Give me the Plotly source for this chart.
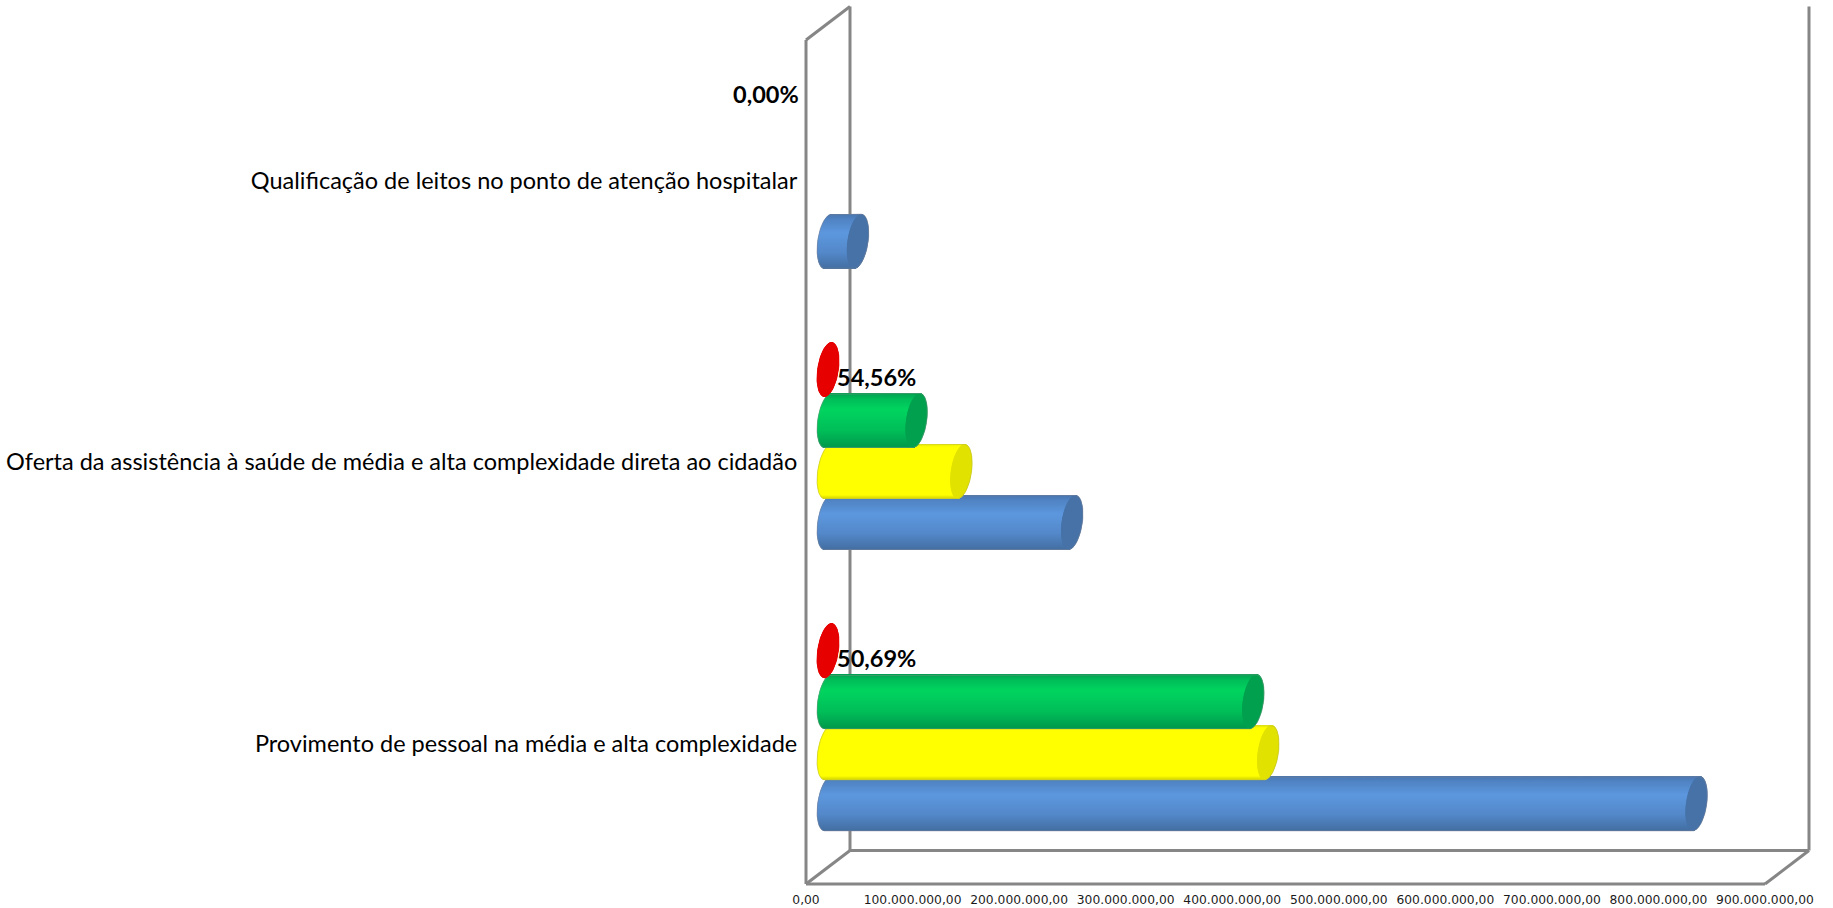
import math
import plotly.graph_objects as go

# ---- data ----
categories = ["Provimento de pessoal na média e alta complexidade",
              "Oferta da assistência à saúde de média e alta complexidade direta ao cidadão",
              "Qualificação de leitos no ponto de atenção hospitalar"]
blue_values = [815e6, 229e6, 28e6]
yellow_values = [413e6, 125e6, 0]
green_values = [399e6, 83e6, 0]
red_percent = [50.69, 54.56, 0.0]
axis_ticks = [0, 1e8, 2e8, 3e8, 4e8, 5e8, 6e8, 7e8, 8e8, 9e8]

# ---- layout constants ----
W, H = 1833, 908
FX0, FX1, FY0, FY1 = 806, 1765, 40, 884   # front plane
DX, DY = 44, 33.5                          # depth of the 3-D box
MX, MY = 22, 16                            # offset of the plane that holds the bars
XMAX = 9e8
PAD = 30                                   # px of room left of zero for the rounded bar ends
px_x = XMAX / (FX1 - FX0)
px_y = 3 / (FY1 - FY0)
SLOT = 51
BAR_H = 54
SKEW = 3.5
RX = 10.4


def lerp_colour(stops, t):
    for (t0, c0), (t1, c1) in zip(stops, stops[1:]):
        if t <= t1:
            f = (t - t0) / (t1 - t0) if t1 > t0 else 0
            c = [round(a + (b - a) * f) for a, b in zip(c0, c1)]
            return "rgb(%d,%d,%d)" % tuple(c)
    return "rgb(%d,%d,%d)" % tuple(stops[-1][1])


series = [
    dict(name="blue", values=blue_values, slot=1.5, cap="#4672A8", line="rgba(120,130,150,0.55)",
         stops=[(0, (72, 118, 176)), (0.1, (80, 132, 196)), (0.35, (92, 151, 222)),
                (0.7, (84, 137, 203)), (1, (68, 112, 164))]),
    dict(name="yellow", values=yellow_values, slot=0.5, cap="#E2E200", line="rgba(190,190,60,0.6)",
         stops=[(0, (245, 245, 0)), (0.06, (255, 255, 0)), (0.95, (255, 255, 0)), (1, (225, 225, 0))]),
    dict(name="green", values=green_values, slot=-0.5, cap="#00A04E", line="rgba(110,150,125,0.55)",
         stops=[(0, (0, 160, 80)), (0.1, (0, 188, 88)), (0.3, (0, 212, 95)),
                (0.7, (0, 190, 88)), (1, (0, 155, 76))]),
    dict(name="red", values=red_percent, slot=-1.5, cap="#E60000", line="rgba(230,0,0,1)",
         stops=[(0, (230, 0, 0)), (1, (230, 0, 0))]),
]

fig = go.Figure()

# invisible trace so the front-plane axes (ticks and category labels) exist
fig.add_trace(go.Scatter(x=[0, 0, 0], y=[0, 1, 2], mode="markers", marker=dict(opacity=0),
                         hoverinfo="skip", showlegend=False, xaxis="x", yaxis="y"))

for idx, s in enumerate(series):
    n = idx + 2
    xa, ya = f"x{n}", f"y{n}"
    by, bl, bb, cy, cl, cb, colours = [], [], [], [], [], [], []
    lx, ly = [], []
    for g, v in enumerate(s["values"]):
        if v <= 0:
            continue
        yc = g - s["slot"] * SLOT * px_y
        is_body = s["name"] != "red"
        for k in range(BAR_H):
            dpx = k + 0.5 - BAR_H / 2
            t = -dpx / (BAR_H / 2)
            r = RX * math.sqrt(max(0, 1 - t * t))
            shift = SKEW * t
            y = yc + t * (BAR_H / 2) * px_y
            if is_body:
                left = (shift - r) * px_x
                right = v + shift * px_x
                by.append(y); bl.append(left); bb.append(right - left)
                colours.append(lerp_colour(s["stops"], k / (BAR_H - 1)))
            cy.append(y); cl.append(v + (shift - r) * px_x); cb.append(2 * r * px_x)
        # outer silhouette only: left end and the two long edges
        ts = [math.cos(math.pi * i / 40) for i in range(41)]
        if is_body:
            lx += [v + SKEW * px_x] + [(SKEW * t - RX * math.sqrt(max(0, 1 - t * t))) * px_x for t in ts] + [v - SKEW * px_x, None]
            ly += [yc + (BAR_H / 2) * px_y] + [yc + t * (BAR_H / 2) * px_y for t in ts] + [yc - (BAR_H / 2) * px_y, None]
        # right half of the cap
        angs = [math.pi * i / 40 for i in range(41)]
        lx += [v + (SKEW * math.cos(a) + RX * math.sin(a)) * px_x for a in angs] + [None]
        ly += [yc + math.cos(a) * (BAR_H / 2) * px_y for a in angs] + [None]
        if not is_body:
            lx += [v + (SKEW * math.cos(a) - RX * math.sin(a)) * px_x for a in angs] + [None]
            ly += [yc + math.cos(a) * (BAR_H / 2) * px_y for a in angs] + [None]
    if by:
        fig.add_trace(go.Bar(x=bb, y=by, base=bl, orientation="h", width=px_y,
                             marker=dict(color=colours, line=dict(width=0)),
                             hoverinfo="skip", showlegend=False, xaxis=xa, yaxis=ya))
    if cy:
        fig.add_trace(go.Bar(x=cb, y=cy, base=cl, orientation="h", width=px_y,
                             marker=dict(color=s["cap"], line=dict(width=0)),
                             hoverinfo="skip", showlegend=False, xaxis=xa, yaxis=ya))
    if lx:
        fig.add_trace(go.Scatter(x=lx, y=ly, mode="lines", line=dict(color=s["line"], width=1),
                                 hoverinfo="skip", showlegend=False, xaxis=xa, yaxis=ya))

layout_axes = {}
for idx in range(len(series)):
    n = idx + 2
    # domain and range both start PAD px left of zero so the rounded ends are not clipped
    xdict = dict(domain=[(FX0 + MX - PAD) / W, (FX1 + MX) / W], range=[-PAD * px_x, XMAX], visible=False,
                 anchor=f"y{n}", fixedrange=True, automargin=False)
    ydict = dict(domain=[1 - (FY1 - MY) / H, 1 - (FY0 - MY) / H], range=[-0.5, 2.5], visible=False,
                 anchor=f"x{n}", fixedrange=True, automargin=False)
    if n > 2:
        xdict["overlaying"] = "x2"
        ydict["overlaying"] = "y2"
    layout_axes[f"xaxis{n}"] = xdict
    layout_axes[f"yaxis{n}"] = ydict


# 3-D box drawn as paper-positioned lines
def seg(x0, y0, x1, y1):
    return dict(type="line", xref="paper", yref="paper", layer="below",
                x0=x0 / W, y0=1 - y0 / H, x1=x1 / W, y1=1 - y1 / H,
                line=dict(color="#868686", width=3))


frame = [
    seg(FX0, FY0, FX0, FY1), seg(FX0, FY1, FX1, FY1),
    seg(FX0, FY1, FX0 + DX, FY1 - DY), seg(FX1, FY1, FX1 + DX, FY1 - DY),
    seg(FX0 + DX, FY1 - DY, FX1 + DX, FY1 - DY),
    seg(FX0 + DX, FY0 - DY, FX0 + DX, FY1 - DY),
    seg(FX1 + DX, FY0 - DY, FX1 + DX, FY1 - DY),
    seg(FX0, FY0, FX0 + DX, FY0 - DY),
]

# percent labels
label_offsets = [(48, -7), (48, -7), (-62, -6)]
annotations = []
for g, p in enumerate(red_percent):
    annotations.append(dict(
        xref="x5", yref="y5", x=p, y=g + 1.5 * SLOT * px_y,
        text=f"{p:.2f}%".replace(".", ","), showarrow=False,
        xshift=label_offsets[g][0], yshift=label_offsets[g][1],
        font=dict(family="Lato", size=23.5, color="#000000", weight="bold")))

fig.update_layout(
    width=W, height=H, autosize=False, barmode="overlay", separators=",.",
    margin=dict(l=0, r=0, t=0, b=0, pad=0),
    paper_bgcolor="white", plot_bgcolor="rgba(0,0,0,0)", showlegend=False,
    shapes=frame, annotations=annotations,
    xaxis=dict(domain=[FX0 / W, FX1 / W], range=[0, XMAX], tickvals=axis_ticks, tickformat=",.2f",
               showgrid=False, zeroline=False, showline=False, ticks="outside", ticklen=4,
               tickcolor="rgba(0,0,0,0)", anchor="y", fixedrange=True, automargin=False,
               tickfont=dict(family="DejaVu Sans", size=12.3, color="#1a1a1a"), tickangle=0),
    yaxis=dict(domain=[1 - FY1 / H, 1 - FY0 / H], range=[-0.5, 2.5], tickvals=[0, 1, 2], ticktext=categories,
               showgrid=False, zeroline=False, showline=False, ticks="outside", ticklen=3,
               tickcolor="rgba(0,0,0,0)", anchor="x", fixedrange=True, automargin=False,
               tickfont=dict(family="Lato", size=23.5, color="#000000")),
    **layout_axes,
)

fig.write_html("out.html", config=dict(displayModeBar=False),
               post_script="document.body.style.margin='0';document.body.style.overflow='hidden';")
